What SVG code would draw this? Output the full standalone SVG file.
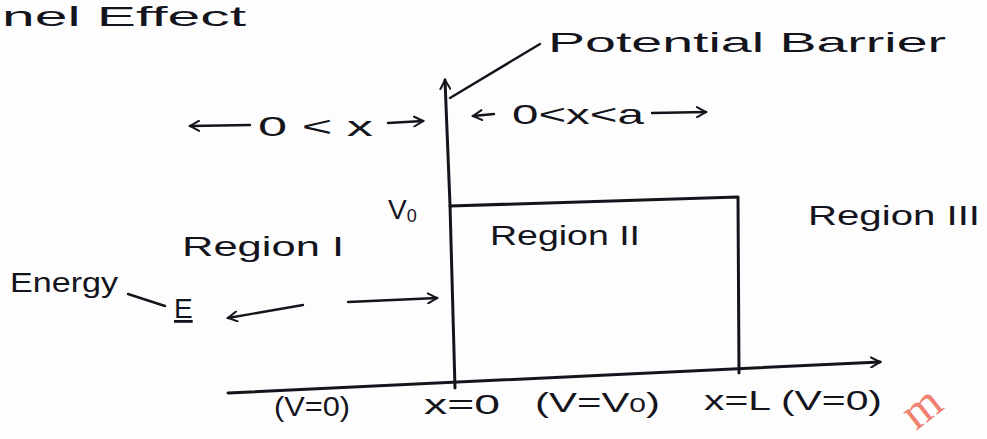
<svg xmlns="http://www.w3.org/2000/svg" width="987" height="439" viewBox="0 0 987 439">
<style>
.ink{fill:none;stroke:#14141c;stroke-width:3;stroke-linecap:round;stroke-linejoin:round}
.thin{fill:none;stroke:#14141c;stroke-width:2.4;stroke-linecap:round;stroke-linejoin:round}
text{font-family:"Liberation Sans","DejaVu Sans",sans-serif;fill:#14141c}
.lbl{font-size:28px}
</style>
<defs>
<marker id="ah" viewBox="0 0 12 12" refX="10" refY="6" markerWidth="12" markerHeight="12" markerUnits="userSpaceOnUse" orient="auto">
<path d="M1,1 L10,6 L1,11" fill="none" stroke="#14141c" stroke-width="2" stroke-linecap="round"/>
</marker>
</defs>
<rect width="987" height="439" fill="#fdfdfd"/>
<g id="title"><text x="2" y="26" class="lbl" textLength="244" lengthAdjust="spacingAndGlyphs">nel  Effect</text></g>
<g id="connectors">
<path class="ink" d="M455,388 L450,205 L445,80" marker-end="url(#ah)"/>
<path class="ink" d="M450,206 L738,197 L739,373"/>
<path class="ink" d="M228,393 L880,362" marker-end="url(#ah)"/>
<path class="thin" d="M450,98 L540,44"/>
<path class="thin" d="M250,125 L190,126" marker-end="url(#ah)"/>
<path class="thin" d="M388,123 L423,121" marker-end="url(#ah)"/>
<path class="thin" d="M494,114 L473,116" marker-end="url(#ah)"/>
<path class="thin" d="M652,113 L706,112" marker-end="url(#ah)"/>
<path class="thin" d="M128,294 L165,306"/>
<path class="thin" d="M303,305 L228,318" marker-end="url(#ah)"/>
<path class="thin" d="M348,302 L437,298" marker-end="url(#ah)"/>
</g>
<g id="potential-barrier"><text x="548" y="52" class="lbl" font-size="32" textLength="398" lengthAdjust="spacingAndGlyphs">Potential Barrier</text></g>
<g id="range-1"><text x="258" y="136" class="lbl" textLength="115" lengthAdjust="spacingAndGlyphs">0 &lt; x</text></g>
<g id="range-2"><text x="512" y="124" class="lbl" textLength="132" lengthAdjust="spacingAndGlyphs">0&lt;x&lt;a</text></g>
<g id="v0"><text x="388" y="219" class="lbl" font-size="26">V<tspan font-size="18" dy="3">0</tspan></text></g>
<g id="region-1"><text x="182" y="256" class="lbl" textLength="162" lengthAdjust="spacingAndGlyphs">Region I</text></g>
<g id="region-2"><text x="490" y="245" class="lbl" textLength="150" lengthAdjust="spacingAndGlyphs">Region II</text></g>
<g id="region-3"><text x="808" y="225" class="lbl" textLength="172" lengthAdjust="spacingAndGlyphs">Region III</text></g>
<g id="energy"><text x="10" y="292" class="lbl" textLength="108" lengthAdjust="spacingAndGlyphs">Energy</text></g>
<g id="e-label"><text x="174" y="318" class="lbl" text-decoration="underline">E</text></g>
<g id="bottom-labels">
<text x="274" y="416" class="lbl" textLength="76" lengthAdjust="spacingAndGlyphs">(V=0)</text>
<text x="424" y="414" class="lbl" textLength="76" lengthAdjust="spacingAndGlyphs">x=0</text>
<text x="535" y="412" class="lbl" textLength="125" lengthAdjust="spacingAndGlyphs">(V=V<tspan font-size="20">0</tspan>)</text>
<text x="704" y="410" class="lbl" textLength="178" lengthAdjust="spacingAndGlyphs">x=L (V=0)</text>
</g>
<g id="watermark"><text x="902" y="420" font-size="48" style="fill:#f08070;font-family:'Liberation Serif',serif" transform="rotate(-38 925 405)">m</text></g>
</svg>
